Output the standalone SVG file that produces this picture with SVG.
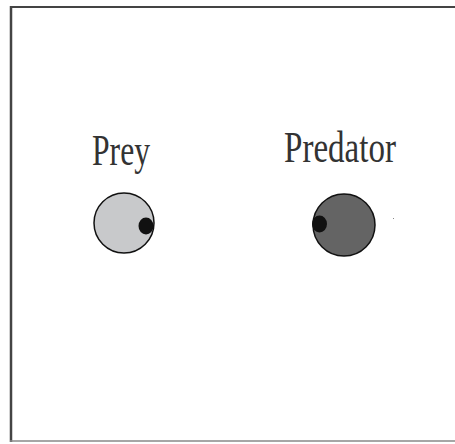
<svg xmlns="http://www.w3.org/2000/svg" width="455" height="444" viewBox="0 0 455 444">
<style>
.lbl{font-family:"Liberation Serif","Times New Roman",serif;font-size:45px;fill:#333}
.body{stroke:#111;stroke-width:1.5}
.eye{fill:#111}
</style>
<rect width="455" height="444" fill="#fff"/>
<g id="frame">
<line x1="10" y1="7" x2="455" y2="7" stroke="#444" stroke-width="2"/>
<line x1="11" y1="6" x2="11" y2="442" stroke="#444" stroke-width="2.5"/>
<line x1="10" y1="441" x2="455" y2="441" stroke="#888" stroke-width="1.5"/>
</g>
<g id="prey">
<text class="lbl" x="92" y="165" textLength="58" lengthAdjust="spacingAndGlyphs">Prey</text>
<circle class="body" cx="124" cy="223" r="30" fill="#c8c9cb"/>
<ellipse class="eye" cx="146" cy="226" rx="7.5" ry="8.5"/>
</g>
<g id="predator">
<text class="lbl" x="284" y="162" textLength="112" lengthAdjust="spacingAndGlyphs">Predator</text>
<circle class="body" cx="344" cy="225" r="31" fill="#646464"/>
<ellipse class="eye" cx="319.5" cy="224" rx="7.5" ry="8.5"/>
</g>
<rect x="393" y="218" width="1" height="1" fill="#888"/>
</svg>
